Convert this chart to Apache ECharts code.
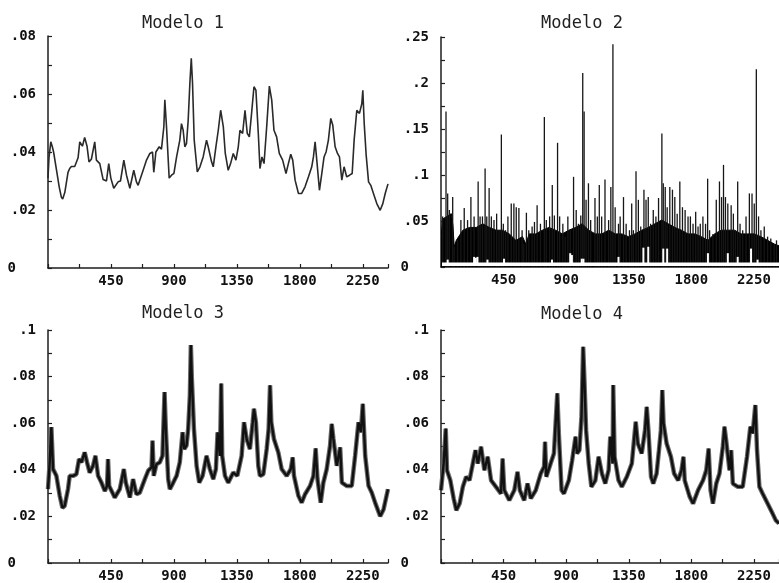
<!DOCTYPE html>
<html><head><meta charset="utf-8">
<script src="https://cdn.jsdelivr.net/npm/echarts@6/dist/echarts.min.js"></script>
<style>html,body{margin:0;padding:0;background:#fff}#c{width:779px;height:583px}</style>
</head><body><div id="c"></div>
<script>
// ---------- DATA (time index, value) ----------
const titles = ['Modelo 1', 'Modelo 2', 'Modelo 3', 'Modelo 4'];
const xTickLabels = [450, 900, 1350, 1800, 2250];

const m1Time = [0,7,20,30,40,60,80,95,105,120,143,155,167,191,203,215,227,246,262,279,293,310,334,346,370,394,418,434,449,470,501,518,542,561,585,613,632,644,680,704,728,747,756,771,795,811,828,835,847,866,883,900,919,942,954,966,978,990,1002,1014,1024,1033,1045,1067,1086,1109,1133,1145,1169,1181,1200,1217,1234,1253,1267,1288,1305,1324,1343,1360,1372,1391,1408,1424,1439,1455,1472,1486,1503,1515,1529,1544,1563,1582,1599,1615,1634,1653,1677,1701,1718,1735,1749,1766,1790,1813,1837,1861,1885,1897,1909,1921,1940,1957,1973,1988,2004,2021,2035,2052,2069,2083,2100,2116,2135,2155,2174,2188,2207,2226,2243,2250,2260,2274,2291,2307,2326,2350,2374,2393,2410,2430];
const m1Value = [0.031,0.038,0.0435,0.042,0.040,0.034,0.028,0.0245,0.0238,0.026,0.033,0.0343,0.035,0.035,0.0355,0.038,0.0435,0.042,0.045,0.042,0.0366,0.0375,0.0435,0.0372,0.036,0.0305,0.030,0.036,0.031,0.0275,0.0297,0.030,0.0372,0.032,0.0275,0.0337,0.0297,0.0285,0.0337,0.0372,0.0395,0.040,0.033,0.040,0.0418,0.041,0.0487,0.058,0.0487,0.031,0.032,0.0326,0.0383,0.0441,0.0498,0.0475,0.0418,0.043,0.051,0.0637,0.0723,0.0637,0.0441,0.0331,0.0349,0.0383,0.0441,0.0418,0.0366,0.0349,0.0418,0.0475,0.0544,0.0487,0.0395,0.0337,0.036,0.0395,0.0372,0.0418,0.0475,0.0464,0.0544,0.0464,0.0452,0.0533,0.0625,0.0613,0.0464,0.0343,0.0383,0.036,0.0487,0.0627,0.0579,0.0475,0.0452,0.0395,0.0372,0.0326,0.036,0.0392,0.0372,0.0303,0.0257,0.0257,0.028,0.0314,0.0349,0.0383,0.0435,0.0372,0.0268,0.0326,0.0383,0.0401,0.0441,0.0516,0.0493,0.0418,0.0395,0.0383,0.0303,0.0349,0.0314,0.032,0.0326,0.0441,0.0544,0.0533,0.0567,0.0613,0.0498,0.0389,0.0297,0.0285,0.0257,0.0222,0.0199,0.0222,0.0257,0.029];

// Modelo 2: dark body, thin spikes above it, white gaps under it
const m2BodyTime = [0,10,74,86,95,110,157,205,253,300,348,396,443,491,538,586,610,634,681,729,776,824,872,919,967,1015,1062,1110,1157,1205,1253,1300,1348,1395,1443,1491,1538,1586,1634,1681,1729,1776,1824,1872,1919,1967,2015,2062,2110,2157,2205,2253,2300,2348,2396,2430];
const m2BodyValue = [0.030,0.052,0.058,0.045,0.022,0.029,0.040,0.043,0.043,0.047,0.043,0.040,0.040,0.036,0.029,0.033,0.025,0.036,0.036,0.040,0.043,0.040,0.036,0.040,0.043,0.047,0.040,0.036,0.036,0.040,0.036,0.036,0.033,0.036,0.040,0.043,0.047,0.051,0.047,0.043,0.040,0.036,0.036,0.033,0.029,0.036,0.040,0.040,0.040,0.036,0.036,0.036,0.033,0.029,0.025,0.023];
const m2SpikeTime = [12,36,48,60,84,95,119,143,167,191,215,238,267,281,298,317,329,346,362,381,400,417,434,448,464,481,505,524,541,560,583,595,614,631,655,672,691,715,743,757,781,800,815,838,853,876,893,912,929,953,972,988,1005,1019,1029,1043,1060,1076,1107,1124,1138,1155,1179,1205,1221,1236,1252,1276,1288,1312,1331,1355,1371,1383,1402,1419,1436,1459,1474,1490,1507,1526,1545,1564,1588,1598,1612,1626,1645,1664,1681,1698,1717,1736,1755,1776,1793,1812,1831,1848,1864,1883,1902,1917,1931,1955,1979,2002,2017,2031,2045,2062,2086,2102,2117,2133,2150,2169,2193,2217,2236,2252,2267,2283,2300,2324,2348,2371,2395,2412];
const m2SpikeValue = [0.055,0.169,0.080,0.062,0.076,0.022,0.029,0.051,0.064,0.051,0.076,0.055,0.093,0.055,0.055,0.107,0.055,0.086,0.055,0.051,0.058,0.040,0.144,0.047,0.040,0.055,0.069,0.069,0.065,0.064,0.040,0.025,0.059,0.040,0.044,0.049,0.067,0.047,0.163,0.051,0.055,0.089,0.056,0.135,0.055,0.047,0.033,0.055,0.040,0.098,0.062,0.047,0.056,0.211,0.169,0.073,0.091,0.051,0.075,0.055,0.089,0.055,0.095,0.051,0.087,0.242,0.065,0.047,0.055,0.076,0.047,0.040,0.069,0.040,0.104,0.073,0.044,0.084,0.073,0.076,0.047,0.062,0.055,0.075,0.145,0.091,0.087,0.065,0.087,0.084,0.076,0.058,0.093,0.065,0.062,0.055,0.055,0.047,0.060,0.044,0.047,0.055,0.047,0.096,0.040,0.036,0.073,0.093,0.076,0.111,0.076,0.069,0.067,0.058,0.040,0.093,0.047,0.040,0.055,0.080,0.080,0.069,0.215,0.055,0.040,0.044,0.033,0.031,0.025,0.029];
const m2FloorValue = 0.005;
const m2GapTime = [48,238,250,262,334,453,798,929,941,1012,1024,1276,1455,1490,1598,1626,1919,2062,2133,2229,2276];
const m2GapValue = [0.008,0.011,0.010,0.011,0.008,0.009,0.008,0.015,0.013,0.009,0.009,0.011,0.021,0.022,0.020,0.020,0.015,0.015,0.011,0.020,0.008];

const m3Time = [0,12,24,36,60,84,103,119,143,155,179,203,222,239,262,279,298,322,339,358,382,406,422,429,437,477,513,542,556,585,608,632,656,692,716,740,747,756,775,799,818,833,842,859,871,895,919,942,962,974,990,1002,1014,1021,1028,1043,1062,1081,1105,1133,1157,1181,1200,1212,1229,1238,1245,1265,1288,1324,1353,1384,1401,1420,1443,1463,1472,1486,1503,1515,1539,1563,1577,1587,1596,1615,1646,1670,1706,1735,1749,1758,1790,1813,1837,1873,1897,1913,1926,1949,1968,1992,2016,2028,2040,2064,2088,2100,2135,2171,2195,2219,2236,2250,2267,2291,2314,2338,2374,2398,2430];
const m3Value = [0.0317,0.0432,0.0583,0.0403,0.0374,0.0288,0.0237,0.0245,0.0317,0.0374,0.0374,0.0381,0.0446,0.0432,0.0475,0.0432,0.0388,0.0417,0.046,0.0374,0.0345,0.0309,0.0331,0.0446,0.0331,0.0281,0.0317,0.0403,0.0345,0.0281,0.036,0.0295,0.0302,0.036,0.0396,0.041,0.0525,0.0374,0.0424,0.0432,0.046,0.0734,0.0576,0.036,0.0317,0.0345,0.0374,0.0432,0.0561,0.0489,0.0504,0.0576,0.0719,0.0935,0.0791,0.0576,0.0417,0.0345,0.0374,0.046,0.0403,0.036,0.0403,0.0561,0.046,0.077,0.046,0.0374,0.0345,0.0388,0.0374,0.046,0.0604,0.0532,0.0489,0.0604,0.0662,0.0604,0.0417,0.0374,0.0381,0.0489,0.0576,0.0763,0.0604,0.0532,0.0475,0.0403,0.0374,0.0403,0.0453,0.0374,0.0288,0.0259,0.0295,0.0331,0.0374,0.0492,0.036,0.0259,0.0345,0.0403,0.0504,0.0597,0.0532,0.0417,0.0496,0.0345,0.0331,0.0331,0.046,0.0604,0.0561,0.0683,0.046,0.0331,0.0302,0.0259,0.0201,0.023,0.0317];

const m4Time = [0,19,34,43,67,91,110,134,157,181,205,229,248,265,288,312,336,360,395,431,443,455,491,527,550,567,598,622,646,681,717,741,748,757,788,812,836,848,867,884,919,943,967,978,995,1010,1022,1031,1043,1062,1081,1110,1133,1157,1181,1205,1217,1234,1238,1248,1276,1300,1336,1372,1400,1415,1443,1467,1479,1491,1510,1526,1550,1567,1581,1591,1600,1622,1653,1676,1705,1729,1743,1752,1788,1812,1848,1884,1907,1924,1938,1955,1979,2002,2026,2038,2050,2074,2086,2098,2134,2169,2200,2224,2241,2260,2272,2289,2312,2348,2384,2407,2430];
const m4Value = [0.0312,0.0427,0.0577,0.0398,0.0355,0.0277,0.0226,0.0255,0.0327,0.037,0.0355,0.0427,0.0484,0.0427,0.0499,0.0398,0.0456,0.0355,0.0327,0.0298,0.0448,0.0312,0.0269,0.0312,0.0391,0.0312,0.0269,0.0341,0.0277,0.0312,0.0384,0.0413,0.052,0.037,0.0427,0.047,0.0728,0.0542,0.0312,0.0298,0.0355,0.0441,0.0542,0.047,0.0484,0.0628,0.0928,0.0785,0.057,0.0427,0.0327,0.0355,0.0456,0.0384,0.0341,0.0398,0.0542,0.0427,0.0764,0.0456,0.0355,0.0327,0.037,0.0427,0.0606,0.0513,0.047,0.057,0.067,0.057,0.037,0.0341,0.0384,0.0484,0.057,0.0742,0.0599,0.0513,0.0456,0.0384,0.0355,0.0398,0.0456,0.0355,0.0284,0.0255,0.0312,0.0355,0.0398,0.0491,0.0312,0.0255,0.0341,0.0384,0.0499,0.0585,0.0527,0.0398,0.0484,0.0341,0.0327,0.0327,0.0456,0.0585,0.0556,0.0678,0.0484,0.0327,0.0298,0.0255,0.0212,0.0183,0.0170];

// ---------- CHART ----------
const FONT = 'DejaVu Sans Mono';
const INK = '#1e1e1e';
function pairs(t, v) { return t.map((x, i) => [x, v[i]]); }

const grids = [
  { left: 48, top: 36, width: 340, height: 232 },
  { left: 441, top: 37, width: 340, height: 230 },
  { left: 48, top: 330, width: 340, height: 233 },
  { left: 441, top: 330, width: 340, height: 233 }
];
const yCfg = [
  { max: 0.08, interval: 0.02 },
  { max: 0.25, interval: 0.05 },
  { max: 0.1, interval: 0.02 },
  { max: 0.1, interval: 0.02 }
];
const XMAX = 2430;

function yLabel(v) {
  if (v === 0) return '{z|0}';
  return String(Number(v.toFixed(3))).replace(/^0/, '');
}
const labelStyle = { fontFamily: FONT, fontWeight: 'bold', fontSize: 14, color: '#111' };

const xAxes = grids.map((g, i) => ({
  type: 'value', gridIndex: i, min: 0, max: XMAX, interval: 450,
  axisLine: { show: true, onZero: false, lineStyle: { color: INK, width: 1.5 } },
  axisTick: { show: true, inside: true, length: 4, lineStyle: { color: INK, width: 1.2 } },
  minorTick: { show: true, splitNumber: 2, length: 4, lineStyle: { color: INK, width: 1.2 } },
  splitLine: { show: false }, minorSplitLine: { show: false }, splitArea: { show: false },
  axisLabel: Object.assign({ margin: 6, showMinLabel: false, showMaxLabel: false,
    formatter: v => xTickLabels.includes(v) ? String(v) : '' }, labelStyle)
}));

const yAxes = grids.map((g, i) => ({
  type: 'value', gridIndex: i, min: 0, max: yCfg[i].max, interval: yCfg[i].interval,
  axisLine: { show: true, lineStyle: { color: INK, width: 1.5 } },
  axisTick: { show: true, inside: true, length: 4, lineStyle: { color: INK, width: 1.2 } },
  minorTick: { show: true, splitNumber: 2, length: 4, lineStyle: { color: INK, width: 1.2 } },
  splitLine: { show: false }, minorSplitLine: { show: false }, splitArea: { show: false },
  axisLabel: Object.assign({ margin: 12, formatter: yLabel,
    rich: { z: Object.assign({ padding: [0, 20, 0, 0] }, labelStyle) } }, labelStyle)
}));

const titleCenters = [[183, 15], [582, 15], [183, 305], [582, 306]];
const title = titles.map((t, i) => ({
  text: t, left: titleCenters[i][0], top: titleCenters[i][1], textAlign: 'center', padding: 0,
  textStyle: { fontFamily: FONT, fontWeight: 'normal', fontSize: 17, color: '#222' }
}));

function bandSeries(ax, t, v) {
  return [
    { type: 'line', xAxisIndex: ax, yAxisIndex: ax, data: pairs(t, v), symbol: 'none', z: 2,
      lineStyle: { color: '#6a6a6a', width: 4.5 }, silent: true },
    { type: 'line', xAxisIndex: ax, yAxisIndex: ax, data: pairs(t, v), symbol: 'none', z: 3,
      lineStyle: { color: '#111', width: 2.4 }, silent: true }
  ];
}

// Modelo 2 drawn as one group through the axis scales:
// black body polygon, thin spikes, white floor strip and white gaps.
function m2Render(params, api) {
  if (params.dataIndex !== 0) return null;
  const children = [];
  const n = m2BodyTime.length;
  const pts = [];
  for (let i = 0; i < n; i++) pts.push(api.coord([m2BodyTime[i], m2BodyValue[i]]));
  pts.push(api.coord([m2BodyTime[n - 1], 0]));
  pts.push(api.coord([m2BodyTime[0], 0]));
  children.push({ type: 'polygon', shape: { points: pts }, style: { fill: '#000', stroke: '#000', lineWidth: 1 } });
  for (let i = 0; i < m2SpikeTime.length; i++) {
    const top = api.coord([m2SpikeTime[i], m2SpikeValue[i]]);
    const bot = api.coord([m2SpikeTime[i], 0]);
    children.push({ type: 'line', shape: { x1: top[0], y1: top[1], x2: bot[0], y2: bot[1] },
      style: { stroke: '#161616', lineWidth: 1.3 } });
  }
  const y0 = api.coord([0, 0])[1];
  const fl = api.coord([0, m2FloorValue]);
  const fr = api.coord([XMAX, m2FloorValue]);
  children.push({ type: 'rect', shape: { x: fl[0] + 1, y: fl[1], width: fr[0] - fl[0], height: y0 - 1 - fl[1] },
    style: { fill: '#fff' } });
  for (let i = 0; i < m2GapTime.length; i++) {
    const g = api.coord([m2GapTime[i], m2GapValue[i]]);
    children.push({ type: 'rect', shape: { x: g[0] - 1, y: g[1], width: 2, height: y0 - 1 - g[1] },
      style: { fill: '#fff' } });
  }
  return { type: 'group', children: children };
}

const series = [
  { type: 'line', xAxisIndex: 0, yAxisIndex: 0, data: pairs(m1Time, m1Value), symbol: 'none',
    lineStyle: { color: '#2a2a2a', width: 1.6 }, silent: true },
  { type: 'custom', xAxisIndex: 1, yAxisIndex: 1, data: pairs(m2SpikeTime, m2SpikeValue), z: 2,
    renderItem: m2Render, clip: true, silent: true }
].concat(bandSeries(2, m3Time, m3Value), bandSeries(3, m4Time, m4Value));

const chart = echarts.init(document.getElementById('c'), null, { renderer: 'canvas' });
chart.setOption({
  animation: false,
  backgroundColor: '#fff',
  title: title,
  grid: grids,
  xAxis: xAxes,
  yAxis: yAxes,
  series: series
});
</script>
</body></html>
